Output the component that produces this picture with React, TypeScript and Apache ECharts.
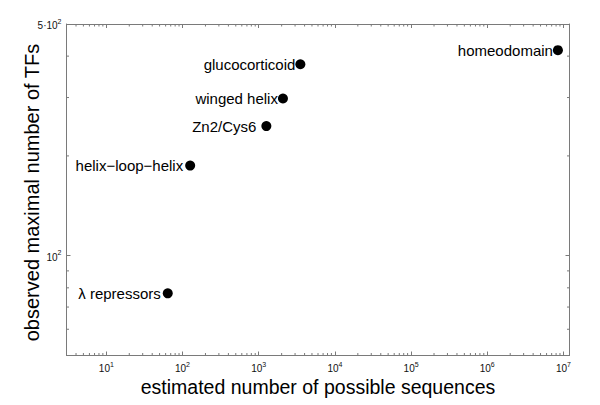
import React, { useEffect, useRef } from 'react';
import * as echarts from 'echarts';

const families = ['λ repressors', 'helix\u2212loop\u2212helix', 'Zn2/Cys6', 'winged helix', 'glucocorticoid', 'homeodomain'];
const possibleSequences = [64, 126, 1260, 2080, 3520, 8.45e6];
const maxTFs = [77, 187, 246, 298, 378, 417];

const X_MIN = 3;
const X_MAX = 1.2e7;
const Y_MIN = 50;
const Y_MAX = 500;

const xMantissas = [2, 3, 4, 5, 6, 7, 8, 9];
const xDecadeBases = [1, 10, 100, 1000, 10000, 100000, 1000000];
const yMinorTicks = [60, 70, 80, 90, 200, 300, 400];

const xTitle = 'estimated number of possible sequences';
const yTitle = 'observed maximal number of TFs';

const FONT = '"Liberation Sans", Arial, Helvetica, sans-serif';
const AXIS_COLOR = '#7a7a7a';
const TEXT_COLOR = '#000';

const labelGap: Record<string, number> = {
  'Zn2/Cys6': 5,
  'helix\u2212loop\u2212helix': 2,
  'λ repressors': 2,
};

export default function App() {
  const ref = useRef<HTMLDivElement>(null);
  useEffect(() => {
    document.body.style.margin = '0';
    const chart = echarts.init(ref.current!, null, { renderer: 'svg' });

    const xMinor: number[] = [];
    xDecadeBases.forEach((b) => xMantissas.forEach((m) => {
      const v = m * b;
      if (v > X_MIN && v < X_MAX) xMinor.push(v);
    }));

    const rich = {
      b: { fontSize: 10, lineHeight: 13, verticalAlign: 'bottom', fontFamily: FONT, color: '#111' },
      s: { fontSize: 7, lineHeight: 7, verticalAlign: 'top', fontFamily: FONT, color: '#111' },
    };
    const isDecade = (v: number) => {
      const lg = Math.log10(v);
      return Math.abs(lg - Math.round(lg)) < 1e-6;
    };

    const axisCommon = {
      type: 'log',
      logBase: 10,
      axisLine: { show: true, lineStyle: { color: AXIS_COLOR, width: 1 } },
      axisTick: { show: true, inside: true, length: 4, lineStyle: { color: AXIS_COLOR } },
      splitLine: { show: false },
    };

    const minorLine = (x1: number, y1: number, x2: number, y2: number) => ({
      type: 'line',
      shape: { x1, y1, x2, y2 },
      style: { stroke: AXIS_COLOR, lineWidth: 1 },
    });

    chart.setOption({
      animation: false,
      backgroundColor: '#fff',
      grid: { left: 66.5, right: 30.5, top: 24, bottom: 49.5, containLabel: false },
      xAxis: [
        {
          ...axisCommon,
          position: 'bottom',
          min: X_MIN,
          max: X_MAX,
          axisLabel: {
            show: true,
            margin: 5,
            showMinLabel: false,
            showMaxLabel: false,
            formatter: (v: number) => (isDecade(v) ? `{b|10}{s|${Math.round(Math.log10(v))}}` : ''),
            rich,
          },
        },
        {
          ...axisCommon,
          position: 'top',
          min: X_MIN,
          max: X_MAX,
          axisLabel: { show: false },
        },
      ],
      yAxis: [
        {
          ...axisCommon,
          position: 'left',
          min: Y_MIN,
          max: Y_MAX,
          axisLabel: {
            show: true,
            margin: 5,
            showMinLabel: false,
            showMaxLabel: true,
            formatter: (v: number) => {
              if (Math.abs(v - 500) < 1) return '{b|5·10}{s|2}';
              return isDecade(v) ? `{b|10}{s|${Math.round(Math.log10(v))}}` : '';
            },
            rich,
          },
        },
        {
          ...axisCommon,
          position: 'right',
          min: Y_MIN,
          max: Y_MAX,
          axisLabel: { show: false },
        },
      ],
      series: [
        {
          type: 'scatter',
          xAxisIndex: 0,
          yAxisIndex: 0,
          symbol: 'circle',
          symbolSize: 10,
          itemStyle: { color: '#000', opacity: 1 },
          data: families.map((name, i) => ({
            name,
            value: [possibleSequences[i], maxTFs[i]],
            label: { distance: labelGap[name] ?? 0 },
          })),
          label: {
            show: true,
            position: 'left',
            formatter: (p: any) => p.name,
            fontFamily: FONT,
            fontSize: 15,
            color: TEXT_COLOR,
          },
        },
        {
          type: 'custom',
          coordinateSystem: 'cartesian2d',
          xAxisIndex: 0,
          yAxisIndex: 0,
          silent: true,
          clip: false,
          data: xMinor.map((v) => [v, Y_MIN]),
          renderItem: (params: any, api: any) => {
            const v = api.value(0);
            const pb = api.coord([v, Y_MIN]);
            const pt = api.coord([v, Y_MAX]);
            return {
              type: 'group',
              children: [
                minorLine(pb[0], pb[1], pb[0], pb[1] - 2.5),
                minorLine(pt[0], pt[1], pt[0], pt[1] + 2.5),
              ],
            };
          },
        },
        {
          type: 'custom',
          coordinateSystem: 'cartesian2d',
          xAxisIndex: 0,
          yAxisIndex: 0,
          silent: true,
          clip: false,
          data: yMinorTicks.map((v) => [X_MIN, v]),
          renderItem: (params: any, api: any) => {
            const v = api.value(1);
            const pl = api.coord([X_MIN, v]);
            const pr = api.coord([X_MAX, v]);
            return {
              type: 'group',
              children: [
                minorLine(pl[0], pl[1], pl[0] + 2.5, pl[1]),
                minorLine(pr[0], pr[1], pr[0] - 2.5, pr[1]),
              ],
            };
          },
        },
      ],
      graphic: [
        {
          type: 'text',
          x: 318,
          y: 387,
          style: {
            text: xTitle,
            fontFamily: FONT,
            fontSize: 19.5,
            fill: TEXT_COLOR,
            textAlign: 'center',
            textVerticalAlign: 'middle',
          },
        },
        {
          type: 'text',
          x: 32,
          y: 192.5,
          rotation: Math.PI / 2,
          style: {
            text: yTitle,
            fontFamily: FONT,
            fontSize: 20,
            fill: TEXT_COLOR,
            textAlign: 'center',
            textVerticalAlign: 'middle',
          },
        },
      ],
    });
    return () => chart.dispose();
  }, []);
  return <div ref={ref} style={{ width: 600, height: 405 }} />;
}
